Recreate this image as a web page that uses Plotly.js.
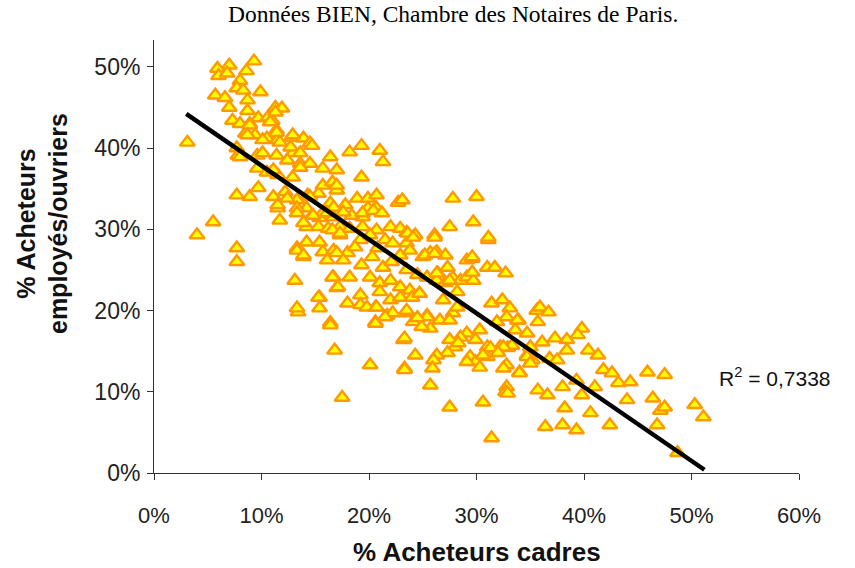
<!DOCTYPE html>
<html>
<head>
<meta charset="utf-8">
<script src="https://cdn.plot.ly/plotly-3.0.1.min.js"></script>
<style>html,body{margin:0;padding:0;background:#fff;}#chart{width:855px;height:568px;}</style>
</head>
<body>
<div id="chart"></div>
<script>
// % Acheteurs cadres (x) and % Acheteurs employés/ouvriers (y), one entry per commune/quartier
const cadres = [
9.3,5.9,7.0,6.0,6.8,8.6,8.0,5.7,6.6,7.0,7.7,8.3,9.9,8.7,8.7,7.3,8.0,8.9,9.7,10.6,11.3,11.9,11.0,11.4,8.5,9.4,10.5,11.5,12.8,13.9,14.5,3.1,7.8,9.6,10.1,11.4,12.9,13.6,15.7,16.4,9.6,10.5,11.5,12.9,
11.3,10.8,8.9,11.4,12.9,14.7,8.7,10.1,11.7,12.7,18.2,19.3,21.0,21.3,7.7,8.0,12.4,13.6,14.5,17.0,19.3,13.6,11.1,7.7,8.9,9.7,11.1,12.2,11.5,11.7,13.3,14.3,15.3,15.7,16.6,17.0,16.4,14.2,14.7,15.4,16.7,17.8,18.9,19.9,20.7,19.9,20.7,19.4,18.4,22.7,14.2,15.3,16.2,17.3,18.2,19.4,20.7,22.0,22.9,23.5,
27.8,27.5,17.0,14.5,13.3,15.7,16.7,17.6,19.4,20.4,21.2,24.3,26.1,25.7,26.3,27.1,29.1,25.0,13.9,16.6,17.3,19.2,20.1,21.5,22.2,23.5,13.3,14.2,13.9,15.7,16.7,18.0,18.7,19.3,20.3,20.8,21.3,22.1,22.9,23.5,24.5,25.4,26.4,27.3,27.8,28.5,16.7,18.2,20.1,21.0,22.0,22.9,23.8,24.7,21.0,13.1,15.4,17.0,18.0,19.2,19.2,20.6,21.7,23.5,25.4,26.6,27.8,13.4,15.4,16.4,24.1,
31.1,29.6,31.0,31.7,32.7,31.4,32.4,33.1,33.9,34.7,35.6,32.8,31.9,33.6,30.3,29.1,28.5,29.9,31.0,32.2,32.9,34.7,35.2,29.4,29.9,31.0,32.8,34.0,27.5,28.0,27.3,26.3,24.3,23.3,25.7,20.1,32.8,29.1,29.7,28.2,26.9,27.5,25.7,24.9,25.4,24.5,23.2,23.5,22.2,21.5,20.6,19.8,20.7,22.0,22.9,24.0,24.7,26.3,27.1,28.2,29.6,
33.8,35.9,36.7,35.7,39.8,39.4,38.4,37.3,36.1,35.0,33.3,32.5,31.3,30.6,32.0,38.4,40.4,41.3,34.7,35.0,36.8,37.5,39.3,41.8,42.6,43.2,44.3,44.0,45.9,47.5,46.4,47.1,47.5,46.8,48.7,50.3,51.1,32.5,34.0,32.7,32.9,35.7,36.6,38.0,39.8,41.0,38.2,40.6,36.4,38.0,39.3,42.4,31.4,30.6,
16.4,20.6,16.8,17.5,23.3,26.0,25.9,23.3,27.5,29.1,28.3,30.3,
4.0,5.5,7.7,7.7,13.3,13.9,13.3,15.3,16.6,17.1,15.4,16.1,17.0,17.6,14.8,16.1,17.3,11.5,12.4,13.3,
30.0,29.7,31.1,26.1,23.1,23.6,24.1,25.2,26.1,29.6,27.5,26.3,23.8
];
const employesOuvriers = [
50.7,49.8,50.2,48.9,49.2,49.5,48.3,46.5,46.2,45.0,47.4,47.1,46.9,45.9,44.6,43.4,43.0,43.0,43.7,43.8,45.0,44.9,43.4,42.2,41.8,41.6,41.2,41.0,41.3,41.2,40.6,40.7,39.1,39.1,39.4,39.1,39.4,38.1,37.5,38.9,37.5,37.0,36.7,36.4,
44.4,43.2,42.8,41.9,41.6,40.3,41.6,41.0,40.7,40.1,39.5,40.3,39.7,38.3,40.0,38.9,38.5,39.4,38.1,37.3,36.4,37.6,37.3,34.2,34.0,35.1,34.0,34.6,32.6,31.1,33.6,34.2,34.4,35.4,35.8,34.8,33.2,32.6,31.7,31.4,31.5,33.0,33.8,33.8,34.2,32.6,32.6,31.5,31.7,33.3,30.3,30.3,30.1,30.3,30.1,30.3,29.9,30.3,30.1,29.6,
33.8,30.3,35.4,34.0,32.6,32.0,32.7,32.1,32.0,32.3,32.0,29.3,29.3,27.1,27.2,26.8,26.2,26.6,30.8,29.9,29.3,28.7,29.3,28.7,28.3,28.3,27.7,28.4,26.6,27.2,27.4,27.1,27.8,25.6,26.6,27.7,25.3,26.0,26.8,25.0,24.4,24.1,24.6,25.3,24.0,23.7,24.1,24.1,24.1,23.4,23.7,22.9,22.5,22.1,22.3,23.7,21.6,22.8,20.9,21.9,20.7,20.4,19.4,19.7,19.4,18.8,19.7,19.8,20.3,18.5,18.6,
28.7,26.4,25.3,25.3,24.6,20.9,21.3,20.3,18.8,17.2,20.0,19.2,18.6,17.6,17.6,17.2,16.7,16.4,15.5,15.5,15.4,14.5,13.9,14.3,13.7,14.3,13.3,12.4,16.4,15.5,14.8,14.5,14.5,12.9,10.8,13.3,10.6,24.1,23.7,20.4,21.3,18.8,17.8,18.0,19.2,19.1,16.4,20.0,19.7,19.2,18.6,20.4,20.4,21.3,21.6,21.6,22.1,23.7,23.4,22.3,24.7,
18.8,20.4,19.8,18.6,17.8,17.0,16.4,16.6,16.1,15.5,15.7,15.5,15.4,14.5,14.8,15.1,15.1,14.5,14.3,13.5,14.1,13.9,11.4,12.7,12.3,11.1,11.2,9.0,12.4,12.1,9.2,7.7,8.1,5.9,2.5,8.4,6.9,12.9,12.3,10.0,9.8,10.2,9.6,10.6,9.6,10.6,8.0,7.4,5.7,5.9,5.3,5.9,4.3,8.7,
18.2,18.4,15.1,9.3,16.6,13.9,12.9,12.7,8.1,13.7,16.0,13.0,
29.3,30.9,27.7,26.0,27.4,26.8,20.3,21.6,24.1,22.9,28.4,26.2,27.1,26.2,31.7,32.0,29.5,33.0,33.8,32.0,
34.0,30.9,29.0,29.0,33.6,29.5,29.0,26.8,27.0,26.6,23.7,24.6,27.4
];
// linear trend line as drawn (end points)
const trendX = [3.0, 51.2];
const trendY = [44.2, 0.4];
const r2Label = 'R<sup>2</sup> = 0,7338';
const xTitle = '% Acheteurs cadres';
const yTitle = '% Acheteurs<br>employés/ouvriers';
const chartTitle = 'Données BIEN, Chambre des Notaires de Paris.';

const sans = 'Liberation Sans, Arial, sans-serif';
const axisCommon = {
  showgrid: false, zeroline: false, showline: true, linecolor: '#333', linewidth: 1,
  ticks: 'outside', ticklen: 6, tickcolor: '#333', tickwidth: 1,
  ticksuffix: '%', dtick: 10, fixedrange: true
};

const data = [
  {x: cadres, y: employesOuvriers, type: 'scatter', mode: 'markers', hoverinfo: 'skip',
   marker: {symbol: 'triangle-up', size: 13, color: '#FFFF00', line: {color: '#FF9900', width: 2.4}}},
  {x: trendX, y: trendY, type: 'scatter', mode: 'lines', hoverinfo: 'skip',
   line: {color: '#000', width: 4.5}}
];

const layout = {
  width: 855, height: 568,
  margin: {l: 154, r: 56, t: 40, b: 95},
  paper_bgcolor: '#fff', plot_bgcolor: '#fff',
  showlegend: false,
  title: {text: chartTitle, font: {family: 'Liberation Serif, Times New Roman, serif', size: 23.5, color: '#000'},
          x: 0.53, xanchor: 'center', xref: 'container', y: 0.975, yanchor: 'middle', yref: 'container'},
  xaxis: Object.assign({}, axisCommon, {range: [0, 60], ticklabelstandoff: 17,
    tickfont: {family: sans, size: 22, color: '#222'}}),
  yaxis: Object.assign({}, axisCommon, {range: [0, 53.3], ticklabelstandoff: 2,
    tickfont: {family: sans, size: 23, color: '#222'}}),
  annotations: [
    {text: '<b>' + yTitle + '</b>', textangle: -90, xref: 'paper', x: 0, xanchor: 'center', xshift: -112,
     yref: 'paper', y: 0.575, yanchor: 'middle', showarrow: false,
     font: {family: sans, size: 25, color: '#111'}},
    {text: '<b>' + xTitle + '</b>', xref: 'paper', x: 0.5, xanchor: 'center',
     yref: 'paper', y: -0.1824, yanchor: 'middle', showarrow: false,
     font: {family: sans, size: 26, color: '#111'}},
    {text: r2Label, xref: 'x', x: 52.4, xanchor: 'left', yref: 'y', y: 11.8, yanchor: 'middle',
     showarrow: false, font: {family: sans, size: 21, color: '#111'}}
  ]
};

Plotly.newPlot('chart', data, layout, {displayModeBar: false, staticPlot: true});
</script>
</body>
</html>
